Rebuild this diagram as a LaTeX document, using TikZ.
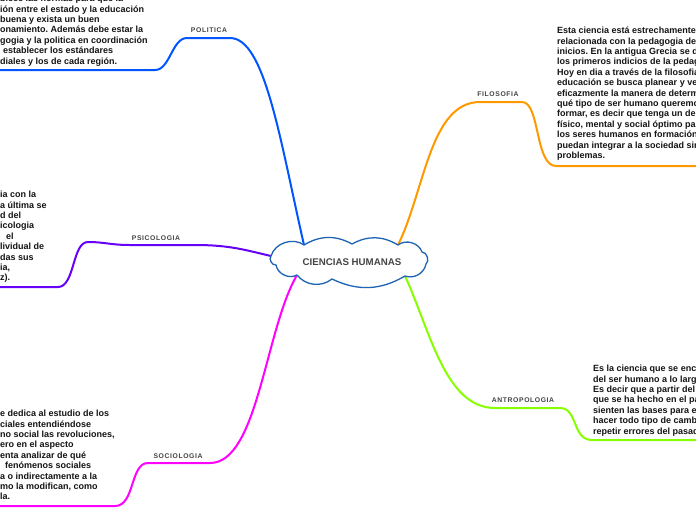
\documentclass[tikz,border=0pt]{standalone}
\usepackage{fontspec}
\setmainfont{Liberation Sans}
\newfontfamily\lblfont[LetterSpace=9]{Liberation Sans}
\frenchspacing
\definecolor{polblue}{RGB}{0,85,255}
\definecolor{filorange}{RGB}{255,153,0}
\definecolor{psipurple}{RGB}{102,0,250}
\definecolor{socmag}{RGB}{255,0,255}
\definecolor{antlime}{RGB}{136,255,0}
\definecolor{cloudblue}{RGB}{30,100,180}
\definecolor{txtgray}{RGB}{68,68,68}
\tikzset{
  conn/.style={line width=2pt, line cap=round, line join=round},
  body/.style={font=\frenchspacing\bfseries\fontsize{9}{10.4}\selectfont, align=left, inner sep=0pt, anchor=north west, text=black!92},
  lbl/.style={font=\lblfont\bfseries\fontsize{6.8}{8}\selectfont, text=txtgray, inner sep=0pt},
  cloudline/.style={draw=cloudblue, line width=1.3pt, fill=white, line join=round},
  roottext/.style={inner sep=0pt, text=txtgray, font=\bfseries\fontsize{9.7}{11}\selectfont},
}
\begin{document}
\begin{tikzpicture}[x=1pt,y=-1pt]
\useasboundingbox (0,0) rectangle (696,520);
\clip (0,0) rectangle (696,520);
\fill[white] (0,0) rectangle (696,520);

% cloud cusps
\coordinate (k1) at (271,256);
\coordinate (k2) at (304,245);
\coordinate (k3) at (352,244);
\coordinate (k4) at (398,245);
\coordinate (k5) at (422,252);
\coordinate (k6) at (426,264);
\coordinate (k7) at (405,276);
\coordinate (k8) at (332,279);
\coordinate (k9) at (297,275);
\coordinate (k10) at (276,265);

% free ends
\coordinate (polend) at (-2,70);
\coordinate (filend) at (698,166);
\coordinate (psiend) at (-2,287);
\coordinate (socend) at (-2,506);
\coordinate (antend) at (698,440);

% labels
\node[lbl] (pollbl) at (209,30) {POLITICA};
\node[lbl] (fillbl) at (498,94) {FILOSOFIA};
\node[lbl] (psilbl) at (156,238) {PSICOLOGIA};
\node[lbl] (soclbl) at (178,456) {SOCIOLOGIA};
\node[lbl] (antlbl) at (523,400) {ANTROPOLOGIA};

% connectors
\draw[conn, polblue] (k2) .. controls (280,140) and (265,38) .. (230,38)
  -- (187,38) .. controls (172,38) and (170,70) .. (155,70) -- (polend);
\draw[conn, filorange] (k4) .. controls (425,190) and (430,102) .. (480,102)
  -- (522,102) .. controls (540,102) and (535,166) .. (556,166) -- (filend);
\draw[conn, antlime] (k7) .. controls (430,330) and (445,408) .. (495,408)
  -- (560,408) .. controls (578,408) and (572,440) .. (592,440) -- (antend);
\draw[conn, socmag] (k9) .. controls (265,330) and (258,463) .. (210,463)
  -- (148,463) .. controls (130,463) and (135,506) .. (115,506) -- (socend);
\draw[conn, psipurple] (k1) .. controls (245,250) and (230,245) .. (195,245)
  -- (130,245) .. controls (110,245) and (105,242) .. (88,242)
  .. controls (72,242) and (75,287) .. (58,287) -- (psiend);

% cloud outline
\path[cloudline] (k1) to[bend left=55] (k2) to[bend left=30] (k3) to[bend left=30] (k4)
  to[bend left=55] (k5) to[bend left=70] (k6) to[bend left=50] (k7)
  to[bend left=28] (k8) to[bend left=45] (k9) to[bend left=55] (k10)
  to[bend left=70] cycle;
\node[roottext] (root) at (352,262) {CIENCIAS HUMANAS};

% texts
\node[body] (poltxt) at (0,-7.5) {\rule{0pt}{9pt}blece las normas para que la\\
ión entre el estado y la educación\\
buena y exista un buen\\
onamiento. Además debe estar la\\
gogia y la politica en coordinación\\
\hspace*{3pt}establecer los estándares\\
diales y los de cada región.};

\node[body] (filtxt) at (557,24.5) {\rule{0pt}{9pt}Esta ciencia está estrechamente\\
relacionada con la pedagogia de\\
inicios. En la antigua Grecia se d\\
los primeros indicios de la pedag\\
Hoy en dia a través de la filosofia\\
educación se busca planear y ve\\
eficazmente la manera de determ\\
qué tipo de ser humano queremo\\
formar, es decir que tenga un de\\
físico, mental y social óptimo par\\
los seres humanos en formación\\
puedan integrar a la sociedad sin\\
problemas.};

\node[body] (psitxt) at (0,188.5) {\rule{0pt}{9pt}ia con la\\
a última se\\
d del\\
icologia\\
\hspace*{6pt}el\\
lividual de\\
das sus\\
ia,\\
z).};

\node[body] (soctxt) at (0,407.5) {\rule{0pt}{9pt}e dedica al estudio de los\\
ciales entendiéndose\\
no social las revoluciones,\\
ero en el aspecto\\
enta analizar de qué\\
\hspace*{5pt}fenómenos sociales\\
a o indirectamente a la\\
mo la modifican, como\\
la.};

\node[body] (anttxt) at (593,362.5) {\rule{0pt}{9pt}Es la ciencia que se enc\\
del ser humano a lo larg\\
Es decir que a partir del\\
que se ha hecho en el pa\\
sienten las bases para e\\
hacer todo tipo de camb\\
repetir errores del pasad};
\end{tikzpicture}
\end{document}
